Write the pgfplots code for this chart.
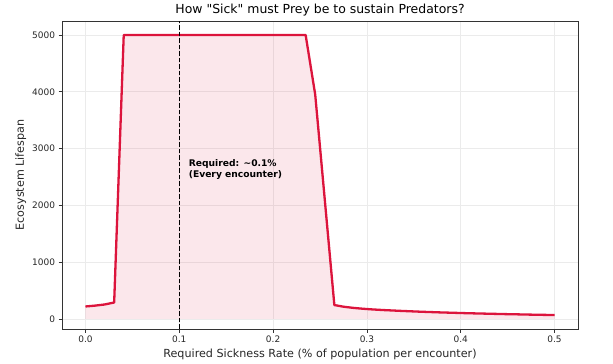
\documentclass[border=0pt]{standalone}
\usepackage{fontspec}
\setmainfont{DejaVu Sans}[Ligatures=TeXOff]
\usepackage{pgfplots}
\pgfplotsset{compat=1.18}
\definecolor{crim}{HTML}{DC143C}
\definecolor{gridc}{HTML}{EBEBEB}
\definecolor{spine}{HTML}{333333}
\begin{document}
\begin{tikzpicture}
\useasboundingbox (-62bp,-35bp) rectangle (551bp,329bp);
\begin{axis}[
  scale only axis,
  width=516bp, height=308bp,
  at={(0,0)}, anchor=south west,
  xmin=-0.025, xmax=0.525,
  ymin=-176.5, ymax=5246.5,
  xtick={0,0.1,0.2,0.3,0.4,0.5},
  ytick={0,1000,2000,3000,4000,5000},
  xticklabel style={/pgf/number format/fixed, /pgf/number format/fixed zerofill, /pgf/number format/precision=1},
  yticklabel style={/pgf/number format/set thousands separator={}},
  /pgf/number format/assume math mode=true,
  ticklabel style={font=\fontsize{9}{10}\selectfont, text=black!85},
  tick align=outside,
  xtick pos=bottom, ytick pos=left,
  major tick length=3.5bp,
  tick style={spine, line width=0.7bp},
  axis line style={spine, line width=0.8bp},
  grid=major,
  major grid style={gridc, line width=0.6bp},
  title={How "Sick" must Prey be to sustain Predators?},
  title style={font=\fontsize{12.5}{14}\selectfont, yshift=-5bp},
  xlabel={Required Sickness Rate (\% of population per encounter)},
  ylabel={Ecosystem Lifespan},
  label style={font=\fontsize{11.2}{13}\selectfont, text=black!85},
  xlabel style={yshift=1bp},
  ylabel style={yshift=-1bp},
]
\addplot[draw=none, fill=crim, fill opacity=0.1] coordinates {
(0.0000,0) (0.0000,220) (0.0102,235) (0.0204,255) (0.0306,290) (0.0408,5000) (0.0510,5000) (0.0612,5000) (0.0714,5000) (0.0816,5000) (0.0918,5000) (0.1020,5000) (0.1122,5000) (0.1224,5000) (0.1327,5000) (0.1429,5000) (0.1531,5000) (0.1633,5000) (0.1735,5000) (0.1837,5000) (0.1939,5000) (0.2041,5000) (0.2143,5000) (0.2245,5000) (0.2347,5000) (0.2449,3950) (0.2551,2100) (0.2653,245) (0.2755,215) (0.2857,195) (0.2959,180) (0.3061,168) (0.3163,158) (0.3265,150) (0.3367,142) (0.3469,135) (0.3571,128) (0.3673,122) (0.3776,116) (0.3878,111) (0.3980,106) (0.4082,101) (0.4184,97) (0.4286,93) (0.4388,89) (0.4490,85) (0.4592,82) (0.4694,78) (0.4796,75) (0.4898,72) (0.5000,70) (0.5000,0)
} -- cycle;
\addplot[crim, line width=2.3bp, line join=round] coordinates {
(0.0000,220) (0.0102,235) (0.0204,255) (0.0306,290) (0.0408,5000) (0.0510,5000) (0.0612,5000) (0.0714,5000) (0.0816,5000) (0.0918,5000) (0.1020,5000) (0.1122,5000) (0.1224,5000) (0.1327,5000) (0.1429,5000) (0.1531,5000) (0.1633,5000) (0.1735,5000) (0.1837,5000) (0.1939,5000) (0.2041,5000) (0.2143,5000) (0.2245,5000) (0.2347,5000) (0.2449,3950) (0.2551,2100) (0.2653,245) (0.2755,215) (0.2857,195) (0.2959,180) (0.3061,168) (0.3163,158) (0.3265,150) (0.3367,142) (0.3469,135) (0.3571,128) (0.3673,122) (0.3776,116) (0.3878,111) (0.3980,106) (0.4082,101) (0.4184,97) (0.4286,93) (0.4388,89) (0.4490,85) (0.4592,82) (0.4694,78) (0.4796,75) (0.4898,72) (0.5000,70)
};
\addplot[black, line width=1.2bp, dash pattern=on 4.5bp off 2bp] coordinates {(0.1,-176.5) (0.1,5246.5)};
\node[anchor=west, align=left, font=\bfseries\fontsize{9.2}{11.5}\selectfont, inner sep=0pt] at (axis cs:0.11,2634) {Required: \textasciitilde0.1\%\\(Every encounter)};
\end{axis}
\end{tikzpicture}
\end{document}
